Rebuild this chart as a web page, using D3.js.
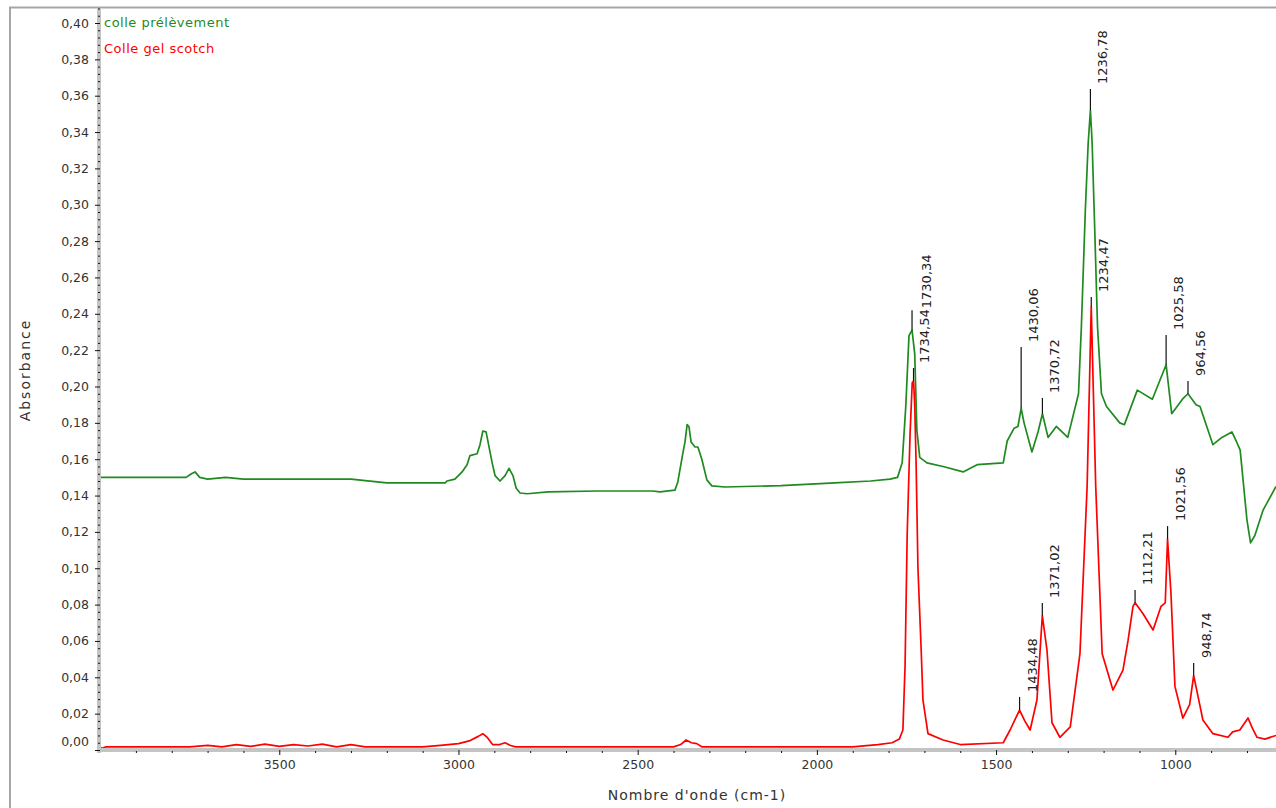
<!DOCTYPE html>
<html>
<head>
<meta charset="utf-8">
<script src="https://cdn.jsdelivr.net/npm/d3@7"></script>
<style>
    body { margin: 0; background: #fff; }
    #chart-area { width: 1276px; height: 808px; }
    text { font-family: "DejaVu Sans", sans-serif; }
</style>
</head>
<body>
<div id="chart-area"></div>
<script>
// spectra: [wavenumber cm-1, absorbance]
const colleSample = [
    [4003,0.150],[3900,0.150],[3760,0.150],[3745,0.152],[3735,0.153],[3722,0.150],[3700,0.149],
    [3650,0.150],[3600,0.149],[3450,0.149],[3300,0.149],[3200,0.147],[3079,0.147],[3037,0.147],
    [3032,0.148],[3010,0.149],[2990,0.153],[2976,0.157],[2968,0.162],[2948,0.163],[2940,0.168],
    [2932,0.1755],[2923,0.175],[2917,0.169],[2906,0.158],[2898,0.151],[2884,0.148],[2870,0.151],
    [2859,0.155],[2848,0.151],[2839,0.144],[2828,0.1414],[2808,0.141],[2750,0.142],[2613,0.1425],
    [2457,0.1425],[2438,0.142],[2396,0.143],[2388,0.1475],[2376,0.161],[2368,0.1695],[2362,0.179],
    [2357,0.178],[2351,0.1695],[2340,0.1667],[2332,0.1667],[2321,0.160],[2307,0.1486],[2293,0.1453],
    [2257,0.1447],[2100,0.1455],[1950,0.147],[1850,0.148],[1796,0.149],[1775,0.150],[1762,0.158],
    [1752,0.189],[1743,0.228],[1734.5,0.231],[1727,0.218],[1721,0.176],[1713,0.161],[1693,0.158],
    [1648,0.156],[1592,0.153],[1553,0.157],[1480,0.158],[1469,0.170],[1450,0.177],[1439,0.178],
    [1430,0.188],[1422,0.180],[1400,0.164],[1383,0.175],[1370.7,0.185],[1355,0.172],[1332,0.178],
    [1300,0.172],[1270,0.196],[1262,0.233],[1251,0.297],[1243,0.334],[1236.8,0.352],[1232,0.334],
    [1225,0.288],[1217,0.233],[1206,0.196],[1192,0.189],[1155,0.180],[1142,0.179],[1106,0.198],
    [1064,0.193],[1025.6,0.212],[1010,0.185],[980,0.193],[964.6,0.196],[942,0.190],[931,0.189],
    [895,0.168],[870,0.172],[842,0.175],[830,0.170],[819,0.165],[800,0.1265],[790,0.114],
    [778,0.118],[755,0.132],[719,0.145]
]

const colleScotch = [
    [4003,0.002],[3995,0.0008],[3985,0.0017],[3750,0.0017],[3700,0.0025],[3660,0.0017],[3620,0.003],
    [3580,0.002],[3540,0.0032],[3500,0.002],[3460,0.003],[3420,0.0022],[3380,0.0032],[3340,0.0017],
    [3300,0.003],[3260,0.0017],[3100,0.0017],[3050,0.0025],[3000,0.0035],[2970,0.005],[2945,0.0075],
    [2932,0.009],[2920,0.007],[2905,0.003],[2885,0.003],[2870,0.004],[2855,0.0025],[2840,0.0017],
    [2400,0.0017],[2380,0.003],[2365,0.0055],[2350,0.004],[2335,0.0035],[2320,0.0017],[1900,0.0017],
    [1830,0.003],[1790,0.004],[1770,0.006],[1760,0.011],[1754,0.046],[1748,0.119],[1740,0.174],
    [1734,0.202],[1730.3,0.203],[1727,0.19],[1723,0.156],[1718,0.100],[1709,0.055],[1704,0.0275],
    [1690,0.009],[1648,0.0055],[1600,0.003],[1480,0.004],[1461,0.011],[1434.5,0.022],[1420,0.016],
    [1405,0.011],[1386,0.0275],[1371,0.074],[1358,0.055],[1344,0.015],[1322,0.007],[1293,0.0127],
    [1266,0.053],[1246,0.145],[1234.5,0.244],[1222,0.145],[1204,0.053],[1174,0.033],[1146,0.044],
    [1132,0.06],[1118,0.079],[1112,0.081],[1090,0.075],[1062,0.066],[1040,0.079],[1028,0.081],
    [1021.6,0.116],[1012,0.086],[1001,0.035],[979,0.0176],[960,0.025],[948.7,0.041],[935,0.028],
    [923,0.0165],[895,0.009],[853,0.007],[840,0.010],[820,0.011],[797,0.0176],[785,0.012],
    [772,0.007],[750,0.006],[719,0.008]
]

const seriesNames = ["colle prélèvement", "Colle gel scotch"]
const seriesColors = ["#1f8a1f", "#ff0000"]

// peak annotations: label, position, series, peak value, top of the marker line
const peakLabels = ["1734,54", "1430,06", "1370,72", "1236,78", "1025,58", "964,56",
                    "1730,34", "1434,48", "1371,02", "1234,47", "1112,21", "1021,56", "948,74"]
const peakWaves = [1734.54, 1430.06, 1370.72, 1236.78, 1025.58, 964.56,
                   1730.34, 1434.48, 1371.02, 1234.47, 1112.21, 1021.56, 948.74]
const peakSeries = [0, 0, 0, 0, 0, 0, 1, 1, 1, 1, 1, 1, 1]
const peakValues = [0.231, 0.188, 0.185, 0.352, 0.212, 0.196,
                    0.203, 0.022, 0.074, 0.244, 0.081, 0.116, 0.041]
const peakTops = [0.242, 0.2217, 0.1937, 0.3637, 0.2283, 0.203,
                  0.2102, 0.0292, 0.0809, 0.2492, 0.088, 0.1232, 0.0479]

const xTicks = [3500, 3000, 2500, 2000, 1500, 1000]
const yTicks = [0, 0.02, 0.04, 0.06, 0.08, 0.10, 0.12, 0.14, 0.16, 0.18, 0.20,
                0.22, 0.24, 0.26, 0.28, 0.30, 0.32, 0.34, 0.36, 0.38, 0.40]

class SpectrumChart {
    constructor(parentElement) {
        this.parentElement = parentElement
        this.initVis()
    }

    initVis() {
        let vis = this

        vis.width = 1276
        vis.height = 808
        vis.plot = {left: 99, right: 1276, top: 8, bottom: 750}

        vis.svg = d3.select("#" + vis.parentElement).append("svg")
            .attr("width", vis.width)
            .attr("height", vis.height)

        // outer frame (left and top edges only, the rest is cut off)
        vis.svg.append("path")
            .attr("d", `M10,${vis.height} V7.5 H${vis.width}`)
            .attr("fill", "none")
            .attr("stroke", "#a6a6a6")
            .attr("stroke-width", 2)

        vis.x = d3.scaleLinear().domain([4003, 719]).range([vis.plot.left, vis.plot.right])
        vis.y = d3.scaleLinear().domain([0, 0.40]).range([vis.plot.bottom, 23])

        vis.svg.append("clipPath").attr("id", "plot-clip")
            .append("rect")
            .attr("x", vis.plot.left + 2)
            .attr("y", vis.plot.top)
            .attr("width", vis.plot.right - vis.plot.left)
            .attr("height", vis.plot.bottom - vis.plot.top - 2)

        // grey axis bands
        vis.svg.append("rect")
            .attr("x", 97).attr("y", vis.plot.top + 1)
            .attr("width", 4).attr("height", vis.plot.bottom - vis.plot.top + 2)
            .attr("fill", "#c4c4c4")
        vis.svg.append("rect")
            .attr("x", 97).attr("y", vis.plot.bottom - 2)
            .attr("width", vis.plot.right - 97).attr("height", 4)
            .attr("fill", "#c4c4c4")

        let fmt = d => d3.format(".2f")(d).replace(".", ",")

        vis.yAxis = d3.axisLeft(vis.y).tickValues(yTicks).tickFormat(fmt).tickSize(5).tickPadding(6)
        vis.xAxis = d3.axisBottom(vis.x).tickValues(xTicks).tickFormat(d3.format("d")).tickSize(5).tickPadding(5)

        let yMinor = d3.range(0, 0.4081, 0.004).filter(v => Math.abs(v * 50 - Math.round(v * 50)) > 1e-6)
        let xMinor = d3.range(3900, 700, -100).filter(v => v % 500 !== 0)

        vis.svg.append("g")
            .attr("class", "y-minor")
            .attr("transform", `translate(${vis.plot.left + 1},0)`)
            .call(d3.axisLeft(vis.y).tickValues(yMinor).tickSize(2).tickFormat(""))

        vis.svg.append("g")
            .attr("class", "x-minor")
            .attr("transform", `translate(0,${vis.plot.bottom + 1})`)
            .call(d3.axisBottom(vis.x).tickValues(xMinor).tickSize(2).tickFormat(""))

        vis.svg.append("g")
            .attr("class", "y-axis axis")
            .attr("transform", `translate(${vis.plot.left + 1},0)`)
            .call(vis.yAxis)

        vis.svg.append("g")
            .attr("class", "x-axis axis")
            .attr("transform", `translate(0,${vis.plot.bottom})`)
            .call(vis.xAxis)

        vis.svg.selectAll(".domain").remove()
        vis.svg.selectAll(".tick line").attr("stroke", "#111")
        vis.svg.selectAll(".axis .tick text")
            .attr("font-size", 12.5)
            .attr("font-family", "DejaVu Sans, sans-serif")
            .attr("fill", "#333")

        // the 0,00 label sits a bit higher than its tick
        vis.svg.selectAll(".y-axis .tick text").filter(d => d === 0).attr("dy", "-0.4em")

        // axis titles
        vis.svg.append("text")
            .attr("x", 697).attr("y", 800)
            .attr("text-anchor", "middle")
            .attr("font-size", 14)
            .attr("letter-spacing", 1)
            .attr("fill", "#333")
            .text("Nombre d'onde (cm-1)")

        vis.svg.append("text")
            .attr("transform", "translate(30,370) rotate(-90)")
            .attr("text-anchor", "middle")
            .attr("font-size", 14)
            .attr("letter-spacing", 2)
            .attr("fill", "#333")
            .text("Absorbance")

        this.wrangleData()
    }

    wrangleData() {
        let vis = this

        vis.displayData = [colleSample, colleScotch].map((s, i) => ({
            name: seriesNames[i],
            color: seriesColors[i],
            values: s.map(d => ({wave: d[0], abs: d[1]}))
        }))

        vis.peaks = peakLabels.map((label, i) => ({
            label: label,
            wave: peakWaves[i],
            value: peakValues[i],
            top: peakTops[i],
            series: peakSeries[i]
        }))

        this.updateVis()
    }

    updateVis() {
        let vis = this

        let line = d3.line()
            .x(d => vis.x(d.wave))
            .y(d => vis.y(d.abs))

        vis.svg.append("g")
            .attr("clip-path", "url(#plot-clip)")
            .selectAll(".spectrum")
            .data(vis.displayData)
            .enter()
            .append("path")
            .attr("class", "spectrum")
            .attr("d", d => line(d.values))
            .attr("fill", "none")
            .attr("stroke", d => d.color)
            .attr("stroke-width", 1.7)
            .attr("stroke-linejoin", "round")

        // peak marker lines
        vis.svg.selectAll(".peak-line")
            .data(vis.peaks)
            .enter()
            .append("line")
            .attr("class", "peak-line")
            .attr("x1", d => vis.x(d.wave))
            .attr("x2", d => vis.x(d.wave))
            .attr("y1", d => vis.y(d.value))
            .attr("y2", d => vis.y(d.top))
            .attr("stroke", "#111")
            .attr("stroke-width", 1.2)

        // peak labels, rotated, sitting right of the marker line
        let labels = vis.svg.selectAll(".peak-label")
            .data(vis.peaks)
            .enter()
            .append("text")
            .attr("class", "peak-label")
            .attr("font-size", 13)
            .attr("fill", "#222")
            .text(d => d.label)

        // labels that touch each other get stacked, first one at the lowest marker
        labels.each(function(d) {
            d.len = this.getComputedTextLength()
            d.start = vis.y(d.top) - 5
        })
        vis.peaks.forEach((d, i) => {
            vis.peaks.slice(0, i).forEach(o => {
                let closeX = Math.abs(vis.x(o.wave) - vis.x(d.wave)) < 6
                let gap = Math.max(o.start - o.len - d.start, d.start - d.len - o.start)
                if (closeX && gap < 8) {
                    let base = Math.max(o.start, d.start)
                    o.start = base
                    d.start = base - o.len - 1
                }
            })
        })
        labels.attr("transform", d => `translate(${vis.x(d.wave) + 17},${d.start}) rotate(-90)`)

        // legend
        vis.svg.selectAll(".legend")
            .data(vis.displayData)
            .enter()
            .append("text")
            .attr("class", "legend")
            .attr("x", 104)
            .attr("y", (d, i) => 27 + i * 26)
            .attr("font-size", 13)
            .attr("letter-spacing", 0.5)
            .attr("fill", d => d.color)
            .text(d => d.name)
    }
}

new SpectrumChart("chart-area")
</script>
</body>
</html>
